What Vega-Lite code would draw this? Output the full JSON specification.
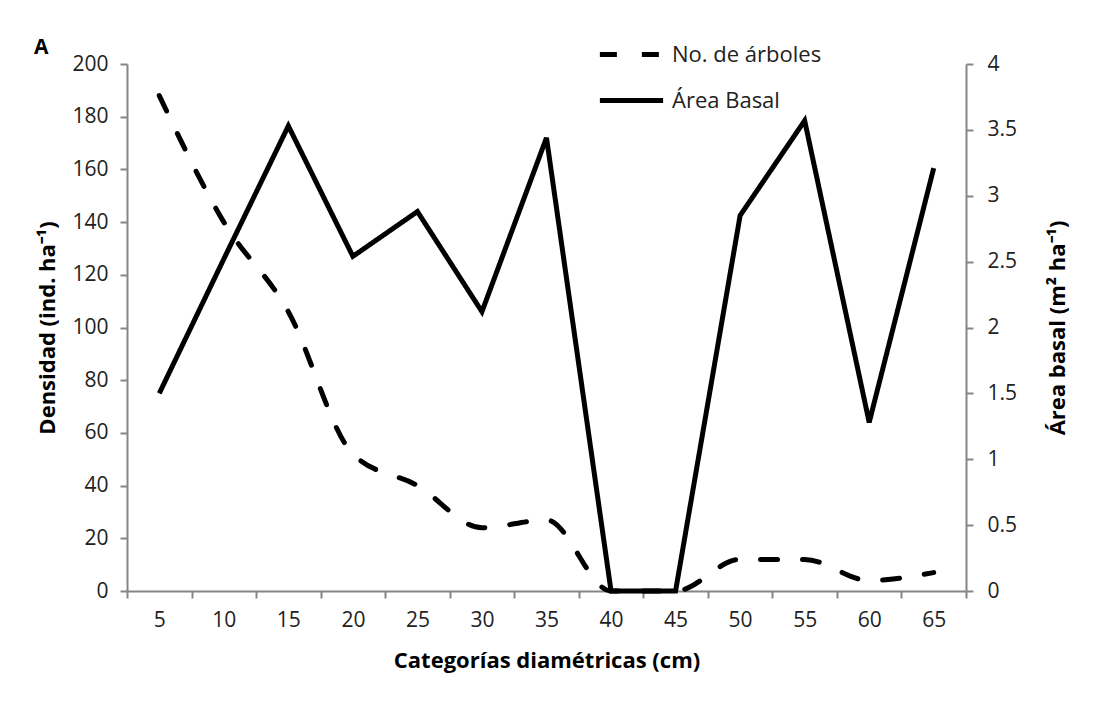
{
  "$schema": "https://vega.github.io/schema/vega-lite/v6.json",
  "width": 839,
  "height": 527,
  "autosize": {"type": "none"},
  "padding": {"left": 127, "top": 64, "right": 128, "bottom": 130},
  "background": "white",
  "title": {"text": "A", "anchor": "start", "frame": "group", "dx": -93, "dy": 46, "offset": 8, "fontSize": 21, "fontWeight": "bold", "font": "Open Sans", "color": "#000000"},
  "data": {"values": [
    {"cat": "5", "arboles": 188, "area": 1.5},
    {"cat": "10", "arboles": 140, "area": 2.52},
    {"cat": "15", "arboles": 106, "area": 3.53},
    {"cat": "20", "arboles": 52, "area": 2.54},
    {"cat": "25", "arboles": 40, "area": 2.88},
    {"cat": "30", "arboles": 24, "area": 2.12},
    {"cat": "35", "arboles": 27, "area": 3.44},
    {"cat": "40", "arboles": 0, "area": 0},
    {"cat": "45", "arboles": 0, "area": 0},
    {"cat": "50", "arboles": 12, "area": 2.85},
    {"cat": "55", "arboles": 12, "area": 3.57},
    {"cat": "60", "arboles": 4, "area": 1.28},
    {"cat": "65", "arboles": 7, "area": 3.21}
  ]},
  "encoding": {
    "x": {"field": "cat", "type": "ordinal", "sort": null,
      "scale": {"paddingInner": 0, "paddingOuter": 0},
      "axis": {"title": "Categorías diamétricas (cm)", "labelAngle": 0, "tickBand": "extent", "labelPadding": 11, "titlePadding": 20}}
  },
  "layer": [
    {
      "mark": {"type": "line", "strokeWidth": 5, "strokeCap": "round", "interpolate": "monotone", "color": "black"},
      "encoding": {
        "y": {"field": "arboles", "type": "quantitative", "scale": {"domain": [0, 200]},
          "axis": {"title": "Densidad (ind. ha⁻¹)", "values": [0,20,40,60,80,100,120,140,160,180,200], "orient": "left", "labelPadding": 12, "titlePadding": 12}},
        "strokeDash": {"datum": "No. de árboles", "type": "nominal",
          "scale": {"domain": ["No. de árboles", "Área Basal"], "range": [[17, 25], [1, 0]]},
          "legend": {"title": null, "orient": "none", "legendX": 470, "legendY": -44, "symbolType": "stroke", "symbolSize": 4000, "symbolStrokeWidth": 5, "symbolStrokeColor": "black", "labelFontSize": 22, "labelFont": "Open Sans", "labelColor": "#222", "rowPadding": -17, "labelOffset": 6}}
      }
    },
    {
      "mark": {"type": "line", "strokeWidth": 5, "strokeJoin": "miter", "color": "black"},
      "encoding": {
        "y": {"field": "area", "type": "quantitative", "scale": {"domain": [0, 4]},
          "axis": {"title": "Área basal (m² ha⁻¹)", "values": [0,0.5,1,1.5,2,2.5,3,3.5,4], "format": "~g", "orient": "right", "titleAngle": 270, "labelPadding": 14, "titlePadding": 53}},
        "strokeDash": {"datum": "Área Basal", "type": "nominal"}
      }
    }
  ],
  "resolve": {"scale": {"y": "independent"}},
  "config": {
    "view": {"stroke": null},
    "axis": {"grid": false, "domainColor": "#868686", "domainWidth": 2, "tickColor": "#868686", "tickWidth": 2, "tickSize": 7,
      "labelFont": "Open Sans", "labelFontSize": 21, "labelColor": "#222",
      "titleFont": "Open Sans", "titleFontSize": 22, "titleFontWeight": "bold", "titleColor": "#000"}
  }
}
